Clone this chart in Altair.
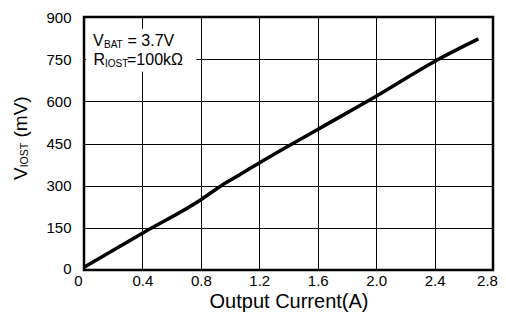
import altair as alt
import pandas as pd

# Data
current_a = [0.0, 0.4, 0.8, 0.94, 1.06, 1.2, 1.6, 2.0, 2.4, 2.7]
viost_mv = [10, 131, 250, 300, 337, 381, 500, 618, 742, 822]

x_ticks = [0, 0.4, 0.8, 1.2, 1.6, 2.0, 2.4, 2.8]
y_ticks = [0, 150, 300, 450, 600, 750, 900]

# annotation box (data units)
box_x = [0.014]
box_x2 = [0.77]
box_y = [858]
box_y2 = [705]

ann_line1 = ["V", "BAT", "= 3.7V"]
ann_line2 = ["R", "IOST", "=100kΩ"]
ytitle_parts = ["V", "IOST", "(mV)"]
x_title = "Output Current(A)"

FONT = "Liberation Sans"

df = pd.DataFrame({"I": current_a, "V": viost_mv})
box = pd.DataFrame({"x": box_x, "x2": box_x2, "y": box_y, "y2": box_y2})

xscale = alt.Scale(domain=[0, 2.8], nice=False, zero=False)
yscale = alt.Scale(domain=[0, 900], nice=False)

line = alt.Chart(df).mark_line(color="black", strokeWidth=3.5, interpolate="monotone").encode(
    x=alt.X(
        "I:Q",
        scale=xscale,
        axis=alt.Axis(
            values=x_ticks,
            labelExpr="datum.value == 0 ? '0' : format(datum.value, '.1f')",
            title=x_title,
            titleFontSize=20,
            titleFontWeight="normal",
            titleColor="black",
            titlePadding=3,
            labelFontSize=15,
            labelColor="black",
            labelPadding=3,
            labelFlush=False,
            labelOffset={"expr": "datum.value == 0 ? -6 : (datum.value > 2.7 ? -6 : 0)"},
            ticks=False,
            domain=False,
            grid=True,
            gridColor="black",
            gridOpacity=1,
            gridWidth=1,
        ),
    ),
    y=alt.Y(
        "V:Q",
        scale=yscale,
        axis=alt.Axis(
            values=y_ticks,
            format="d",
            title=None,
            labelFontSize=15,
            labelColor="black",
            labelPadding=13,
            labelFlush=False,
            labelOffset={"condition": {"test": "datum.value == 0", "value": -2}, "value": 0},
            ticks=False,
            domain=False,
            grid=True,
            gridColor="black",
            gridOpacity=1,
            gridWidth=1,
        ),
    ),
)

rect = alt.Chart(box).mark_rect(fill="white").encode(
    x=alt.X("x:Q", scale=xscale),
    x2="x2:Q",
    y=alt.Y("y:Q", scale=yscale),
    y2="y2:Q",
)


def txt(s, x, y, size, angle=0):
    return alt.Chart(pd.DataFrame({"t": [s]})).mark_text(
        text=s,
        font=FONT,
        fontSize=size,
        color="black",
        align="left",
        baseline="alphabetic",
        angle=angle,
    ).encode(x=alt.value(x), y=alt.value(y))


ann = [
    txt(ann_line1[0], 9, 29, 16),
    txt(ann_line1[1], 20, 30.5, 10),
    txt(ann_line1[2], 43.5, 29, 16),
    txt(ann_line2[0], 9.5, 48, 16),
    txt(ann_line2[1], 21, 49.5, 10),
    txt(ann_line2[2], 43, 48, 16),
    txt(ytitle_parts[0], -57, 163, 19, 270),
    txt(ytitle_parts[1], -56, 150.3, 10.5, 270),
    txt(ytitle_parts[2], -57, 120.5, 19, 270),
]

chart = alt.layer(line, rect, *ann).properties(
    width=409,
    height=253,
    autosize=alt.AutoSizeParams(type="none"),
    padding={"left": 76, "top": 9, "right": 5, "bottom": 42},
).configure(font=FONT).configure_view(
    stroke="black", strokeWidth=2.5
).configure_axis(labelFont=FONT, titleFont=FONT)

chart.save("out.html", embed_options={"renderer": "svg", "actions": False})
